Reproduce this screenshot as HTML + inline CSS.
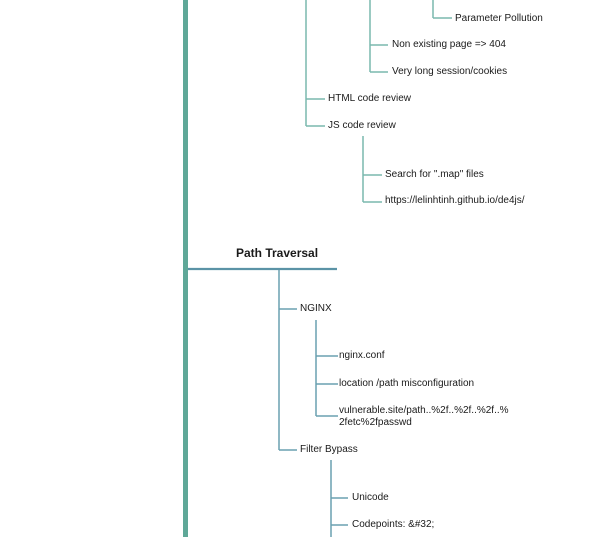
<!DOCTYPE html>
<html><head><meta charset="utf-8"><style>
body{margin:0;width:602px;height:537px;background:#fff;overflow:hidden;position:relative;font-family:"Liberation Sans",sans-serif;}
svg{position:absolute;left:0;top:0}
.t{position:absolute;font-size:10px;color:#1a1a1a;white-space:nowrap;line-height:12px}
</style></head><body>
<svg width="602" height="537">
<rect x="183" y="0" width="5" height="537" fill="#5fa898"/>
<g stroke="#7ab8ae" stroke-width="1.5" fill="none">
<path d="M306 0V126M306 99H325M306 126H325"/>
<path d="M370 0V72M370 45H388M370 72H388"/>
<path d="M433 0V18M433 18H452"/>
<path d="M363 136V202M363 175H382M363 202H382"/>
</g>
<path d="M188 269H337" stroke="#5b93a6" stroke-width="2.2"/>
<g stroke="#6aa0b0" stroke-width="1.5" fill="none">
<path d="M279 270V450M279 309H297M279 450H297"/>
<path d="M316 320V416M316 356H338M316 384H338M316 416H338"/>
<path d="M331 460V537M331 498H348M331 525H348"/>
</g>
</svg>
<div class="t" style="left:455px;top:13px">Parameter Pollution</div>
<div class="t" style="left:392px;top:39px">Non existing page =&gt; 404</div>
<div class="t" style="left:392px;top:66px">Very long session/cookies</div>
<div class="t" style="left:328px;top:93px">HTML code review</div>
<div class="t" style="left:328px;top:120px">JS code review</div>
<div class="t" style="left:385px;top:169px">Search for ".map" files</div>
<div class="t" style="left:385px;top:195px">https://lelinhtinh.github.io/de4js/</div>
<div class="t" style="left:236px;top:246px;font-size:12px;font-weight:bold;line-height:14px">Path Traversal</div>
<div class="t" style="left:300px;top:303px">NGINX</div>
<div class="t" style="left:339px;top:350px">nginx.conf</div>
<div class="t" style="left:339px;top:378px">location /path misconfiguration</div>
<div class="t" style="left:339px;top:405px">vulnerable.site/path..%2f..%2f..%2f..%<br>2fetc%2fpasswd</div>
<div class="t" style="left:300px;top:444px">Filter Bypass</div>
<div class="t" style="left:352px;top:492px">Unicode</div>
<div class="t" style="left:352px;top:519px">Codepoints: &amp;#32;</div>
</body></html>
